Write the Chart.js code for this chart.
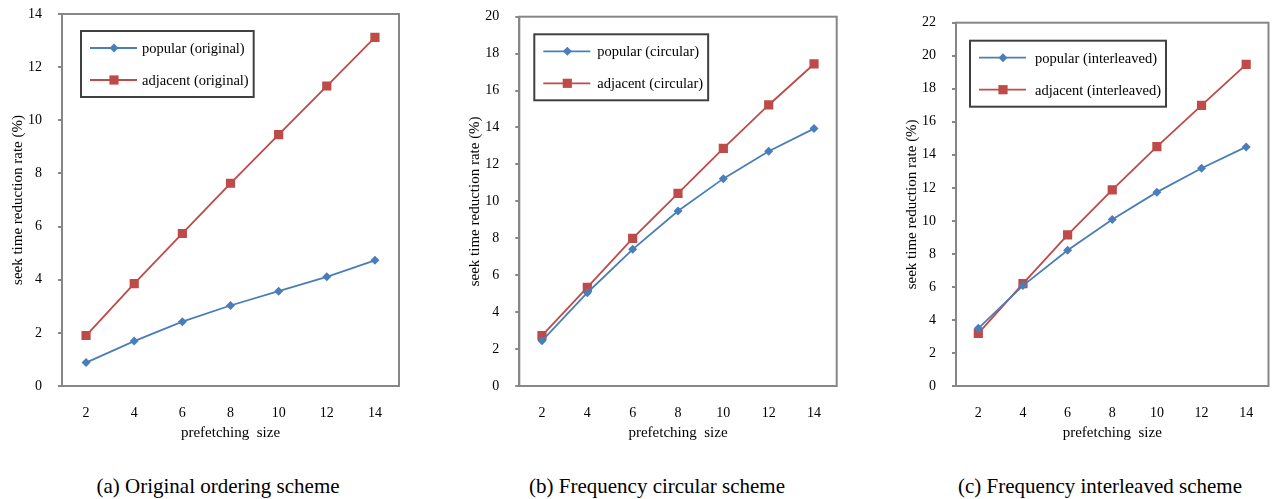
<!DOCTYPE html>
<html>
<head>
<meta charset="utf-8">
<script src="https://cdn.jsdelivr.net/npm/chart.js@4.4.1/dist/chart.umd.min.js"></script>
<style>
  html, body { margin: 0; padding: 0; background: #fff; }
  body { width: 1275px; height: 499px; position: relative; overflow: hidden; font-family: "Liberation Serif", serif; }
  .panel { position: absolute; top: 0; width: 425px; height: 450px; }
  .caption { position: absolute; top: 473px; font-size: 21px; line-height: 26px; color: #000; white-space: nowrap; transform: translateX(-50%); }
</style>
</head>
<body>
<div class="panel" style="left:0px"><canvas id="chart-a" width="425" height="450"></canvas></div>
<div class="panel" style="left:425px"><canvas id="chart-b" width="425" height="450"></canvas></div>
<div class="panel" style="left:850px"><canvas id="chart-c" width="425" height="450"></canvas></div>
<div class="caption" style="left:218px">(a) Original ordering scheme</div>
<div class="caption" style="left:657px">(b) Frequency circular scheme</div>
<div class="caption" style="left:1100px">(c) Frequency interleaved scheme</div>

<script>
// Data
const prefetchSizes = ['2', '4', '6', '8', '10', '12', '14'];

const popularOriginal = [0.88, 1.69, 2.42, 3.03, 3.57, 4.11, 4.73];
const adjacentOriginal = [1.90, 3.85, 5.74, 7.63, 9.46, 11.29, 13.12];

const popularCircular = [2.45, 5.05, 7.40, 9.48, 11.23, 12.71, 13.94];
const adjacentCircular = [2.73, 5.34, 8.00, 10.43, 12.87, 15.22, 17.44];

const popularInterleaved = [3.49, 6.08, 8.22, 10.08, 11.74, 13.19, 14.48];
const adjacentInterleaved = [3.19, 6.20, 9.15, 11.88, 14.50, 16.99, 19.48];

const yMaxOriginal = 14;
const yMaxCircular = 20;
const yMaxInterleaved = 22;

// Styling
const SERIF = '"Liberation Serif", "Times New Roman", serif';
const BLUE = '#4a7ebb';
const RED = '#be4b48';
const FRAME = '#878787';

// Draws the grey frame round the plot area
const frameBox = {
    id: 'frameBox',
    afterDatasetsDraw(chart) {
        const { ctx, chartArea: a } = chart;
        ctx.save();
        ctx.strokeStyle = FRAME;
        ctx.lineWidth = 2;
        ctx.strokeRect(a.left, a.top, a.right - a.left, a.bottom - a.top);
        ctx.restore();
    }
};

// Legend inside a dark box, line + marker like the spreadsheet style
const boxLegend = {
    id: 'boxLegend',
    afterDraw(chart, args, opts) {
        const { ctx, chartArea: a } = chart;
        const x0 = a.left + opts.dx;
        const y0 = a.top + opts.dy;
        ctx.save();
        ctx.font = '14.5px ' + SERIF;
        const textW = Math.max(...chart.data.datasets.map(d => ctx.measureText(d.label).width));
        const w = opts.textOffset + textW + 5;
        const h = 66;
        ctx.strokeStyle = '#404040';
        ctx.lineWidth = 2;
        ctx.strokeRect(x0, y0, w, h);

        chart.data.datasets.forEach((ds, i) => {
            const y = y0 + 17 + i * 32;
            ctx.strokeStyle = ds.borderColor;
            ctx.lineWidth = 1.8;
            ctx.beginPath();
            ctx.moveTo(x0 + 9, y);
            ctx.lineTo(x0 + 56, y);
            ctx.stroke();

            const cx = x0 + 33;
            ctx.fillStyle = ds.pointBackgroundColor;
            ctx.beginPath();
            if (ds.pointStyle === 'rectRot') {
                const r = ds.pointRadius;
                ctx.moveTo(cx, y - r);
                ctx.lineTo(cx + r, y);
                ctx.lineTo(cx, y + r);
                ctx.lineTo(cx - r, y);
                ctx.closePath();
            } else {
                const s = ds.pointRadius * Math.SQRT1_2;
                ctx.rect(cx - s, y - s, 2 * s, 2 * s);
            }
            ctx.fill();

            ctx.fillStyle = '#000';
            ctx.textBaseline = 'middle';
            ctx.textAlign = 'left';
            ctx.fillText(ds.label, x0 + opts.textOffset, y + 1);
        });
        ctx.restore();
    }
};

function makeDataset(label, values, color, style, radius) {
    return {
        label: label,
        data: values,
        borderColor: color,
        backgroundColor: color,
        pointBackgroundColor: color,
        pointBorderColor: color,
        pointBorderWidth: 0,
        pointStyle: style,
        pointRadius: radius,
        borderWidth: 1.8,
        tension: 0,
        fill: false
    };
}

function createPanel(canvasId, popular, adjacent, scheme, yMax, area, legendPos) {
    const ctx = document.getElementById(canvasId).getContext('2d');
    return new Chart(ctx, {
        type: 'line',
        data: {
            labels: prefetchSizes,
            datasets: [
                makeDataset('popular (' + scheme + ')', popular, BLUE, 'rectRot', 4.5),
                makeDataset('adjacent (' + scheme + ')', adjacent, RED, 'rect', 6.5)
            ]
        },
        options: {
            responsive: false,
            animation: false,
            layout: {
                padding: { left: area.left - 62, top: area.top, right: 425 - area.right, bottom: 0 }
            },
            plugins: {
                legend: { display: false },
                tooltip: { enabled: false },
                boxLegend: legendPos
            },
            scales: {
                x: {
                    type: 'category',
                    offset: true,
                    afterFit: scale => {
                        scale.height = 64;
                        scale.paddingLeft = 0;
                        scale.paddingRight = 0;
                    },
                    grid: { display: false, drawTicks: false },
                    border: { display: true, color: FRAME, width: 2 },
                    ticks: {
                        color: '#000',
                        padding: 19,
                        maxRotation: 0,
                        font: { family: SERIF, size: 14 }
                    },
                    title: {
                        display: true,
                        text: 'prefetching  size',
                        color: '#000',
                        font: { family: SERIF, size: 15 },
                        padding: { top: 0, bottom: 8 }
                    }
                },
                y: {
                    min: 0,
                    max: yMax,
                    // keep the plot top where the layout padding puts it
                    afterFit: scale => {
                        scale.width = 62;
                        scale.paddingTop = 0;
                        scale.paddingBottom = 0;
                    },
                    grid: {
                        display: true,
                        drawOnChartArea: false,
                        drawTicks: true,
                        tickLength: 4,
                        color: FRAME,
                        lineWidth: 2
                    },
                    border: { display: true, color: FRAME, width: 2 },
                    ticks: {
                        stepSize: 2,
                        color: '#000',
                        padding: 16,
                        font: { family: SERIF, size: 14 }
                    },
                    title: {
                        display: true,
                        text: 'seek time reduction rate (%)',
                        color: '#000',
                        font: { family: SERIF, size: 15 },
                        padding: { top: 9, bottom: 0 }
                    }
                }
            }
        },
        plugins: [frameBox, boxLegend]
    });
}

document.addEventListener('DOMContentLoaded', () => {
    createPanel('chart-a', popularOriginal, adjacentOriginal, 'original', yMaxOriginal,
        { left: 62, top: 14, right: 399 }, { dx: 19, dy: 17, textOffset: 61 });
    createPanel('chart-b', popularCircular, adjacentCircular, 'circular', yMaxCircular,
        { left: 94.3, top: 16.7, right: 411.7 }, { dx: 15, dy: 17.6, textOffset: 63 });
    createPanel('chart-c', popularInterleaved, adjacentInterleaved, 'interleaved', yMaxInterleaved,
        { left: 106, top: 22.7, right: 424 }, { dx: 14, dy: 18, textOffset: 65 });
});
</script>
</body>
</html>
